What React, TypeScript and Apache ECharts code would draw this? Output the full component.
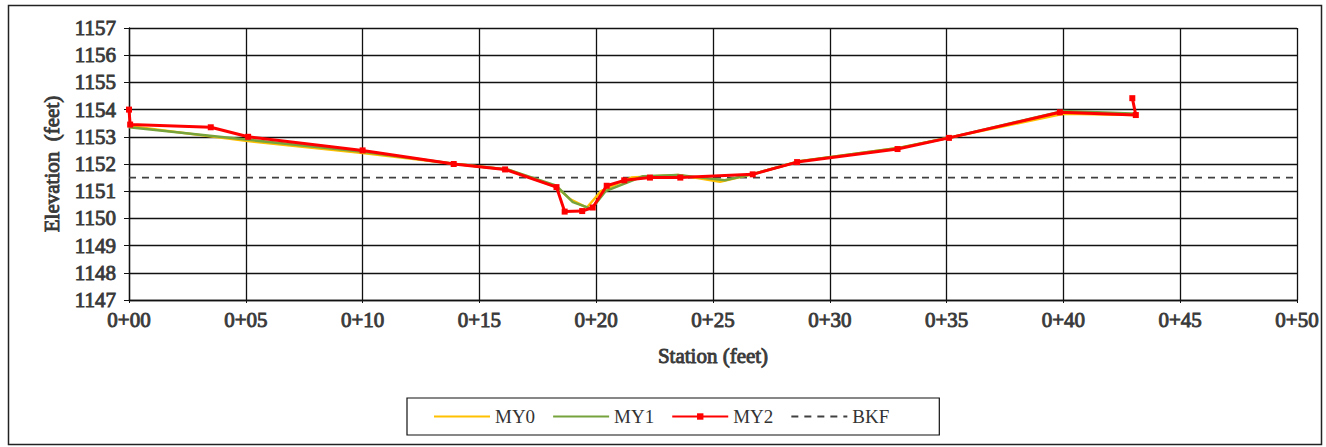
import React, { useEffect, useRef } from "react";
import * as echarts from "echarts";

const xTicks = [0, 5, 10, 15, 20, 25, 30, 35, 40, 45, 50];

const my0Station = [0, 5, 10, 14, 16.2, 18.3, 18.9, 19.6, 20.2, 21.5, 23.5, 25.3, 26.8, 28.7, 33, 35.3, 40, 43.2];
const my0Elev = [1153.4, 1152.85, 1152.4, 1152.0, 1151.8, 1151.15, 1150.7, 1150.4, 1151.0, 1151.5, 1151.6, 1151.35, 1151.65, 1152.1, 1152.6, 1153.0, 1153.85, 1153.8];

const my1Station = [0, 5, 10, 14, 16.2, 18.3, 19.0, 19.8, 20.4, 22, 23.5, 25.5, 26.8, 28.7, 33, 35.3, 40, 43.2];
const my1Elev = [1153.35, 1152.9, 1152.45, 1152.0, 1151.8, 1151.2, 1150.6, 1150.35, 1151.0, 1151.55, 1151.6, 1151.4, 1151.65, 1152.1, 1152.6, 1153.0, 1153.95, 1153.85];

const my2Station = [0, 0.05, 3.5, 5.1, 10, 13.9, 16.1, 18.3, 18.65, 19.4, 19.85, 20.45, 21.2, 22.3, 23.6, 26.7, 28.6, 32.9, 35.1, 39.85, 43.1, 42.95];
const my2Elev = [1154.0, 1153.45, 1153.35, 1153.0, 1152.5, 1152.0, 1151.8, 1151.15, 1150.25, 1150.27, 1150.4, 1151.2, 1151.4, 1151.5, 1151.5, 1151.62, 1152.07, 1152.55, 1152.96, 1153.9, 1153.8, 1154.42];

const bkfStation = [0, 50];
const bkfElev = [1151.5, 1151.5];

const zip = (a: number[], b: number[]) => a.map((v, i) => [v, b[i]]);

const SERIF = "Liberation Serif";

export default function App() {
  const ref = useRef<HTMLDivElement>(null);
  useEffect(() => {
    if (!ref.current) return;
    const chart = echarts.init(ref.current, null, { renderer: "svg" });
    const boldText = {
      fontFamily: SERIF,
      fontWeight: "normal" as const,
      fontSize: 21,
      color: "#3a3a3a",
      textBorderColor: "#3a3a3a",
      textBorderWidth: 0.9,
    };
    chart.setOption({
      animation: false,
      backgroundColor: "#ffffff",
      grid: { left: 129, top: 28, width: 1168, height: 272, containLabel: false },
      xAxis: {
        type: "value",
        min: 0,
        max: 50,
        interval: 5,
        name: "Station (feet)",
        nameLocation: "middle",
        nameGap: 45,
        nameTextStyle: boldText,
        axisLine: { show: true, lineStyle: { color: "#111", width: 1.3 } },
        axisTick: { show: true, length: 3, lineStyle: { color: "#111" } },
        axisLabel: {
          ...boldText,
          margin: 9,
          formatter: (v: number) => "0+" + (v < 10 ? "0" + v : String(v)),
        },
        splitLine: { show: true, lineStyle: { color: "#111", width: 1.3 } },
      },
      yAxis: {
        type: "value",
        min: 1147,
        max: 1157,
        interval: 1,
        name: "Elevation  (feet)",
        nameLocation: "middle",
        nameGap: 64,
        nameTextStyle: boldText,
        axisLine: { show: true, lineStyle: { color: "#111", width: 1.3 } },
        axisTick: { show: true, length: 5, lineStyle: { color: "#111" } },
        axisLabel: {
          ...boldText,
          margin: 13,
          formatter: (v: number) => String(v),
        },
        splitLine: { show: true, lineStyle: { color: "#111", width: 1.3 } },
      },
      legend: {
        left: 407,
        top: 398,
        padding: [9, 50, 9, 26],
        itemWidth: 56,
        itemHeight: 8,
        itemGap: 17,
        borderColor: "#111",
        borderWidth: 1.2,
        textStyle: { fontFamily: SERIF, fontSize: 19, color: "#333" },
        data: [
          { name: "MY0", itemStyle: { opacity: 0 } },
          { name: "MY1", itemStyle: { opacity: 0 } },
          { name: "MY2" },
          { name: "BKF", itemStyle: { opacity: 0 } },
        ],
      },
      graphic: [
        {
          type: "rect",
          shape: { x: 8.5, y: 5.5, width: 1313, height: 439 },
          style: { fill: "none", stroke: "#222", lineWidth: 1.5 },
          silent: true,
        },
      ],
      series: [
        {
          name: "MY0",
          type: "line",
          data: zip(my0Station, my0Elev),
          symbol: "none",
          lineStyle: { color: "#FFC000", width: 2.5 },
          itemStyle: { color: "#FFC000" },
          z: 2,
        },
        {
          name: "MY1",
          type: "line",
          data: zip(my1Station, my1Elev),
          symbol: "none",
          lineStyle: { color: "#77A33C", width: 2.5 },
          itemStyle: { color: "#77A33C" },
          z: 3,
        },
        {
          name: "MY2",
          type: "line",
          data: zip(my2Station, my2Elev),
          symbol: "rect",
          symbolSize: 6,
          lineStyle: { color: "#FF0000", width: 3 },
          itemStyle: { color: "#FF0000" },
          z: 4,
        },
        {
          name: "BKF",
          type: "line",
          data: zip(bkfStation, bkfElev),
          symbol: "none",
          lineStyle: { color: "#404040", width: 1.6, type: [7, 6] },
          itemStyle: { color: "#404040" },
          z: 1,
        },
      ],
    });
    return () => chart.dispose();
  }, []);
  return (
    <div
      ref={ref}
      style={{ position: "fixed", left: 0, top: 0, width: 1326, height: 447, background: "#fff" }}
    />
  );
}
